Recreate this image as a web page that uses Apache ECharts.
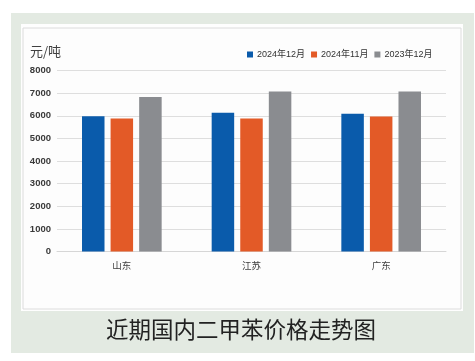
<!DOCTYPE html>
<html>
<head>
<meta charset="utf-8">
<script src="https://cdn.jsdelivr.net/npm/echarts@6/dist/echarts.min.js"></script>
<style>
html,body{margin:0;padding:0;background:#ffffff;}
#chart{width:475px;height:361px;}
</style>
</head>
<body>
<div id="chart"></div>
<script>
var categories = ['山东', '江苏', '广东'];
var seriesNames = ['2024年12月', '2024年11月', '2023年12月'];
var dec2024 = [5980, 6130, 6090];
var nov2024 = [5880, 5880, 5970];
var dec2023 = [6830, 7070, 7070];
var yTicks = [0, 1000, 2000, 3000, 4000, 5000, 6000, 7000, 8000];
var unitLabel = '元/吨';
var captionText = '近期国内二甲苯价格走势图';

var colors = ['#0a5bab', '#e35a27', '#8a8c90'];

var chart = echarts.init(document.getElementById('chart'), null, {renderer: 'canvas'});
chart.setOption({
  animation: false,
  backgroundColor: '#ffffff',
  graphic: [
    {type: 'rect', z: -10, shape: {x: 11, y: 13, width: 463, height: 340}, style: {fill: '#e3eae2'}},
    {type: 'rect', z: -9, shape: {x: 21, y: 24, width: 442, height: 287}, style: {fill: '#fefefe'}},
    {type: 'rect', z: -8, shape: {x: 23, y: 28, width: 438, height: 281}, style: {fill: '#fdfdfd', stroke: '#dcdcdc', lineWidth: 1}},
    {type: 'text', left: 30, top: 45, style: {text: unitLabel, fontSize: 13, fill: '#404040', fontFamily: '"Noto Sans CJK SC", sans-serif'}},
    {type: 'text', left: 106, top: 318, style: {text: captionText, fontSize: 22.5, fill: '#222222', fontFamily: '"Noto Sans CJK SC", sans-serif'}}
  ],
  legend: {
    data: seriesNames,
    left: 247,
    top: 50,
    padding: 0,
    itemWidth: 6,
    itemHeight: 6,
    itemGap: 6,
    icon: 'rect',
    textStyle: {fontSize: 9, color: '#333333', fontFamily: '"Liberation Sans", "Noto Sans CJK SC", sans-serif', padding: [0, 0, 0, -1]}
  },
  grid: {left: 57, right: 29, top: 70.5, bottom: 109.5},
  xAxis: {
    type: 'category',
    data: categories,
    axisLine: {lineStyle: {color: '#d6d6d6', width: 1}},
    axisTick: {show: false},
    axisLabel: {fontSize: 9.5, color: '#404040', margin: 9, fontFamily: '"Noto Sans CJK SC", sans-serif'}
  },
  yAxis: {
    type: 'value',
    min: yTicks[0],
    max: yTicks[yTicks.length - 1],
    interval: 1000,
    axisLine: {show: false},
    axisTick: {show: false},
    splitLine: {lineStyle: {color: '#dedede', width: 1}},
    axisLabel: {fontSize: 9.5, color: '#3a3a3a', margin: 6, fontWeight: 'bold', fontFamily: '"Liberation Sans", sans-serif',
      formatter: function (v) { return String(v); }}
  },
  series: [
    {name: seriesNames[0], type: 'bar', data: dec2024, barWidth: 22.5, barGap: '27%', itemStyle: {color: colors[0]}},
    {name: seriesNames[1], type: 'bar', data: nov2024, barWidth: 22.5, barGap: '27%', itemStyle: {color: colors[1]}},
    {name: seriesNames[2], type: 'bar', data: dec2023, barWidth: 22.5, barGap: '27%', itemStyle: {color: colors[2]}}
  ]
});
</script>
</body>
</html>
